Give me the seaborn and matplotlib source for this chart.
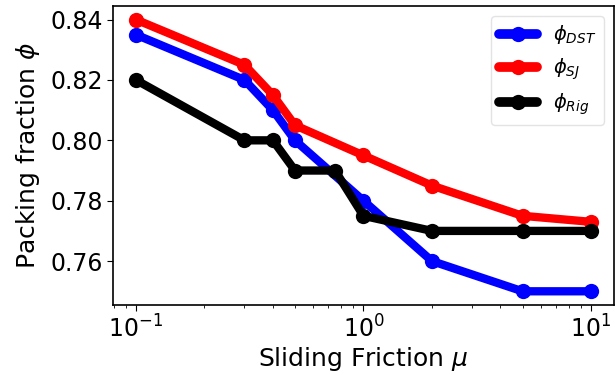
import matplotlib
matplotlib.use("Agg")
import matplotlib.pyplot as plt
import seaborn as sns
import pandas as pd

mu_dst = [0.1, 0.3, 0.4, 0.5, 1.0, 2.0, 5.0, 10.0]
phi_dst = [0.835, 0.820, 0.810, 0.800, 0.780, 0.760, 0.750, 0.750]
mu_sj = [0.1, 0.3, 0.4, 0.5, 1.0, 2.0, 5.0, 10.0]
phi_sj = [0.840, 0.825, 0.815, 0.805, 0.795, 0.785, 0.775, 0.773]
mu_rig = [0.1, 0.3, 0.4, 0.5, 0.75, 1.0, 2.0, 5.0, 10.0]
phi_rig = [0.820, 0.800, 0.800, 0.790, 0.790, 0.775, 0.770, 0.770, 0.770]
labels = [r"$\phi_{DST}$", r"$\phi_{SJ}$", r"$\phi_{Rig}$"]
colors = ["blue", "red", "black"]

frames = []
for lab, xs, ys in zip(labels, [mu_dst, mu_sj, mu_rig], [phi_dst, phi_sj, phi_rig]):
    frames.append(pd.DataFrame({"mu": xs, "phi": ys, "series": lab}))
df = pd.concat(frames, ignore_index=True)

sns.set_style("white")
plt.rcParams["font.family"] = ["DejaVu Sans"]
plt.rcParams["axes.edgecolor"] = "black"
plt.rcParams["axes.labelcolor"] = "black"
plt.rcParams["text.color"] = "black"
plt.rcParams["xtick.color"] = "black"
plt.rcParams["ytick.color"] = "black"

fig = plt.figure(figsize=(6.15, 3.75), dpi=100)
ax = fig.add_axes([0.184, 0.187, 0.814, 0.797])
sns.lineplot(data=df, x="mu", y="phi", hue="series", hue_order=labels,
             palette=dict(zip(labels, colors)), marker="o", markersize=11,
             markeredgewidth=0, linewidth=6, sort=False, ax=ax)
ax.set_xscale("log")
ax.set_yticks([0.76, 0.78, 0.80, 0.82, 0.84])
ax.set_yticklabels(["0.76", "0.78", "0.80", "0.82", "0.84"])
ax.tick_params(axis="both", which="major", labelsize=17, length=4, bottom=True, left=True, direction="out")
ax.tick_params(axis="x", which="minor", bottom=True, length=2)
for s in ax.spines.values():
    s.set_color("black")
    s.set_linewidth(1.2)
ax.set_xlabel(r"Sliding Friction $\mu$", fontsize=18, labelpad=2)
ax.set_ylabel(r"Packing fraction $\phi$", fontsize=18, labelpad=6)
leg = ax.legend(loc="upper right", fontsize=14, frameon=True, handlelength=2.0)
leg.get_frame().set_edgecolor("#dddddd")
for line in leg.get_lines():
    line.set_linewidth(7)
fig.savefig("out.png", dpi=100)
